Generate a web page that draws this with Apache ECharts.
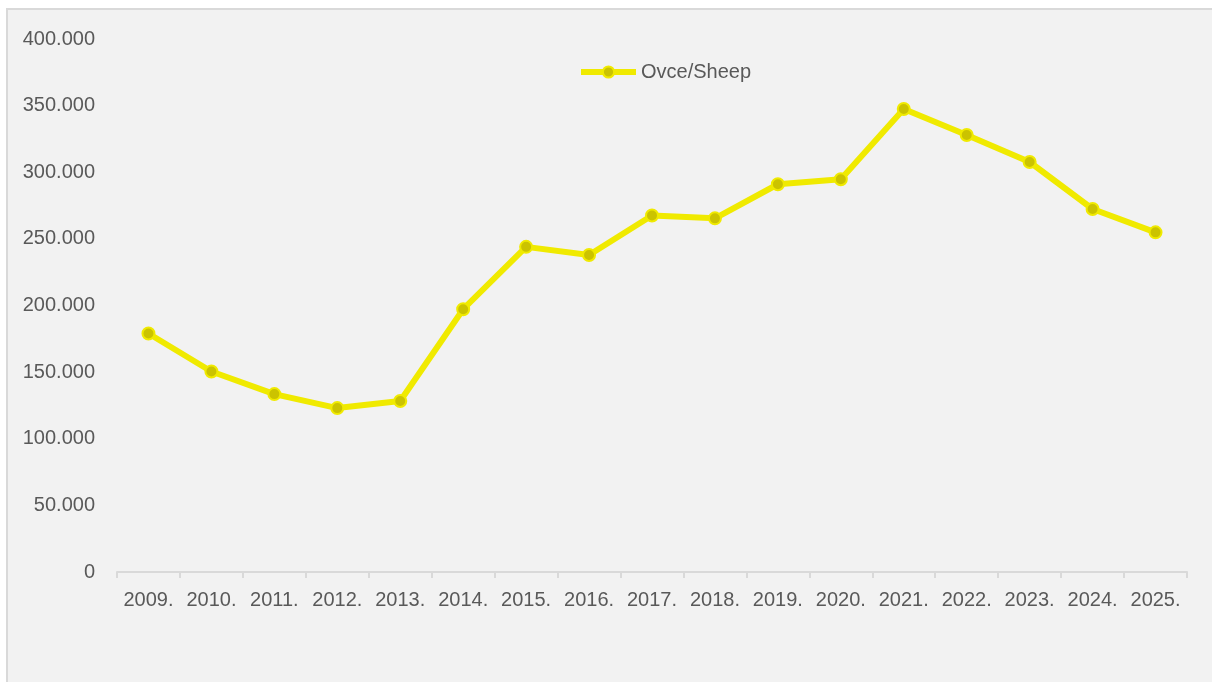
<!DOCTYPE html>
<html>
<head>
<meta charset="utf-8">
<script src="https://cdn.jsdelivr.net/npm/echarts@6/dist/echarts.min.js"></script>
<style>
  html, body { margin: 0; padding: 0; background: #ffffff; width: 1212px; height: 682px; overflow: hidden; }
  #panel { position: absolute; left: 6px; top: 8px; width: 1220px; height: 700px; background: #f2f2f2; border-left: 2px solid #d9d9d9; border-top: 2px solid #d9d9d9; }
  #chart { position: absolute; left: 0; top: 0; width: 1212px; height: 682px; }
</style>
</head>
<body>
<div id="panel"></div>
<div id="chart"></div>
<script>
const categories = ['2009.', '2010.', '2011.', '2012.', '2013.', '2014.', '2015.', '2016.', '2017.', '2018.', '2019.', '2020.', '2021.', '2022.', '2023.', '2024.', '2025.'];
const sheep = [179000, 150500, 133500, 123000, 128300, 197200, 244000, 237900, 267500, 265400, 291000, 294700, 347500, 328000, 307700, 272400, 254900];
const seriesName = 'Ovce/Sheep';
const yMin = 0, yMax = 400000, yInterval = 50000;

const fontFam = "'Liberation Sans', Arial, sans-serif";
const fs = 20;
const chart = echarts.init(document.getElementById('chart'), null, { renderer: 'canvas' });
const fmt = v => {
  if (v === 0) return '0';
  const s = String(Math.round(v));
  return s.replace(/\B(?=(\d{3})+(?!\d))/g, '.');
};
chart.setOption({
  backgroundColor: 'transparent',
  animation: false,
  textStyle: { fontFamily: fontFam },
  legend: {
    data: [seriesName],
    left: 578,
    top: 62,
    itemWidth: 55,
    itemHeight: 14,
    itemGap: 10,
    lineStyle: { width: 6, color: '#f0ea00' },
    itemStyle: { color: '#cbc300', borderColor: '#f0ea00', borderWidth: 2 },
    textStyle: { color: '#595959', fontSize: fs, fontFamily: fontFam },
    padding: 0
  },
  grid: { left: 117, right: 25, top: 39, bottom: 110, containLabel: false },
  xAxis: {
    type: 'category',
    data: categories,
    boundaryGap: true,
    axisLine: { show: true, lineStyle: { color: '#d9d9d9', width: 2 } },
    axisTick: { show: true, length: 6, lineStyle: { color: '#d9d9d9', width: 2 } },
    axisLabel: { color: '#595959', fontSize: fs, fontFamily: fontFam, margin: 18, interval: 0 },
    splitLine: { show: false }
  },
  yAxis: {
    type: 'value',
    min: yMin,
    max: yMax,
    interval: yInterval,
    axisLine: { show: false },
    axisTick: { show: false },
    splitLine: { show: false },
    axisLabel: { color: '#595959', fontSize: fs, fontFamily: fontFam, margin: 22, formatter: fmt }
  },
  series: [{
    name: seriesName,
    type: 'line',
    data: sheep,
    symbol: 'circle',
    symbolSize: 12,
    lineStyle: { color: '#f0ea00', width: 6 },
    itemStyle: { color: '#cbc300', borderColor: '#f0ea00', borderWidth: 2 }
  }]
});
</script>
</body>
</html>
